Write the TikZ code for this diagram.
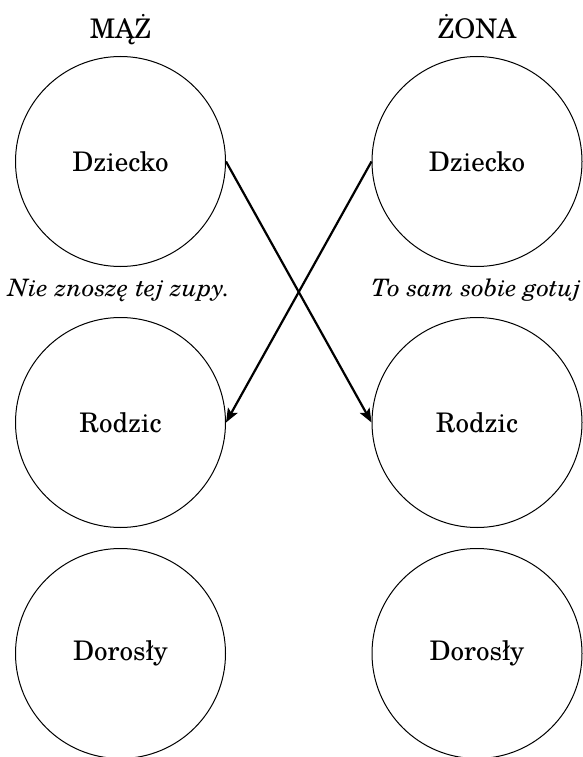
\documentclass[tikz,border=0pt]{standalone}
\usepackage{fontspec}
\setmainfont{texgyreschola}[Extension=.otf,UprightFont=*-regular,ItalicFont=*-italic,BoldFont=*-bold,BoldItalicFont=*-bolditalic]
\usetikzlibrary{arrows.meta}
\newfontfamily\qbase{texgyreschola-italic.otf}
\newlength\qwa
\newlength\qwb
\settowidth\qwa{\fontsize{24}{28}\qbase Nie znoszę tej zupy.}
\settowidth\qwb{\fontsize{24}{28}\qbase To sam sobie gotuj}
\pgfmathsetmacro\qra{222pt/\qwa}
\pgfmathsetmacro\qrb{209pt/\qwb}
\newfontfamily\qfonta{texgyreschola-italic.otf}[FakeStretch=\qra]
\newfontfamily\qfontb{texgyreschola-italic.otf}[FakeStretch=\qrb]
\begin{document}
\begin{tikzpicture}[x=1pt,y=-1pt,
  ring/.style={circle,draw,line width=1pt,minimum size=210pt,inner sep=0pt,font=\fontsize{27}{32}\selectfont},
  title/.style={anchor=base,font=\fontsize{27}{32}\selectfont},
  quote/.style={anchor=base,inner sep=0pt},
  link/.style={line width=2.2pt,-{Stealth[length=14pt,width=11pt,inset=3pt]}}]
\useasboundingbox (0,0) rectangle (583,757);
\node[title] (tm) at (120.5,39) {MĄŻ};
\node[title] (tz) at (477,39) {ŻONA};
\node[ring] (d1) at (120.5,161.5) {Dziecko};
\node[ring] (d2) at (477,161.5) {Dziecko};
\node[quote,font=\fontsize{24}{28}\qfonta] (q1) at (119,296) {Nie znoszę tej zupy.};
\node[quote,font=\fontsize{24}{28}\qfontb] (q2) at (476,296) {To sam sobie gotuj};
\node[ring] (r1) at (120.5,422.5) {Rodzic};
\node[ring] (r2) at (477,422.5) {Rodzic};
\node[ring] (a1) at (120.5,653.5) {Dorosły};
\node[ring] (a2) at (477,653.5) {Dorosły};
\draw[link] (d1.east) -- (r2.west);
\draw[link] (d2.west) -- (r1.east);
\end{tikzpicture}
\end{document}
